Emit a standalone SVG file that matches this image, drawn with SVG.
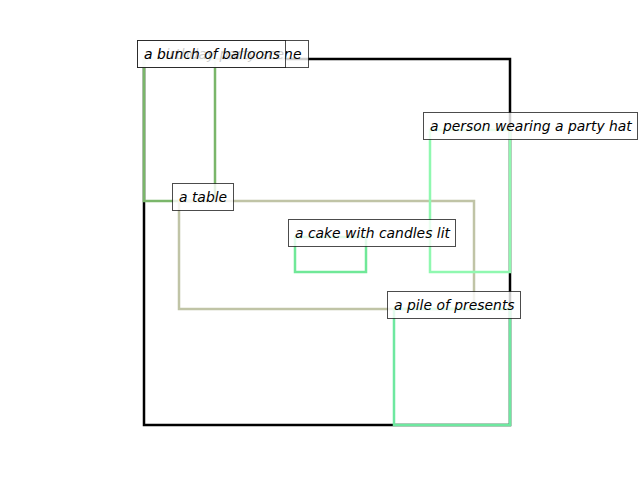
<svg xmlns="http://www.w3.org/2000/svg" width="640" height="480" viewBox="0 0 640 480">
<style>
.box{fill:none;stroke-width:2.5}
.lb{fill:#fff;fill-opacity:0.8;stroke:#000;stroke-opacity:0.7;stroke-width:1}
.t{font-family:"DejaVu Sans",sans-serif;font-style:italic;font-size:13.9px;fill:#000}
</style>
<rect width="640" height="480" fill="#fff"/>
<g id="scene"><rect class="box" x="144" y="59" width="366" height="366" stroke="#000" stroke-width="2"/></g>
<g id="balloons"><rect class="box" x="144" y="59" width="71" height="142" stroke="#7ab66a"/></g>
<g id="table"><rect class="box" x="179" y="201" width="295" height="108" stroke="#c0c4a6"/></g>
<g id="cake"><rect class="box" x="295" y="237" width="71" height="35" stroke="#70e898"/></g>
<g id="person"><rect class="box" x="430" y="130" width="80" height="142" stroke="#90f8b0"/></g>
<g id="presents"><rect class="box" x="394" y="309" width="116" height="116" stroke="#6ee8a0"/></g>
<g id="labels">
<g id="scene-label"><rect class="lb" x="137.5" y="40.5" width="171" height="27"/><text class="t" x="144" y="59">a birthday party scene</text></g>
<g id="balloons-label"><rect class="lb" x="137.5" y="40.5" width="148" height="27"/><text class="t" x="144" y="59">a bunch of balloons</text></g>
<g id="table-label"><rect class="lb" x="172.5" y="183.5" width="61" height="27"/><text class="t" x="179" y="202">a table</text></g>
<g id="cake-label"><rect class="lb" x="288.5" y="219.5" width="167" height="27"/><text class="t" x="295" y="238">a cake with candles lit</text></g>
<g id="person-label"><rect class="lb" x="423.5" y="112.5" width="214" height="27"/><text class="t" x="430" y="131">a person wearing a party hat</text></g>
<g id="presents-label"><rect class="lb" x="387.5" y="291.5" width="133" height="27"/><text class="t" x="394" y="310">a pile of presents</text></g>
</g>
</svg>
